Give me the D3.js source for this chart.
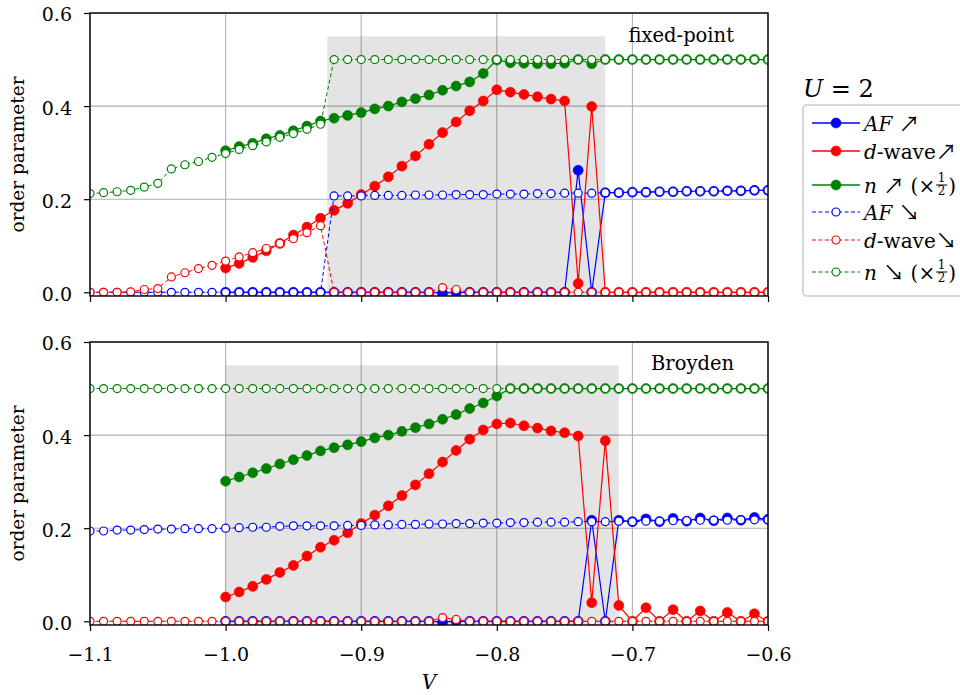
<!DOCTYPE html>
<html><head><meta charset="utf-8">
<script src="https://cdn.jsdelivr.net/npm/d3@7"></script>
<style>body{margin:0;background:#fff}svg{display:block}</style>
</head><body>
<script>
const N = null;
const V = [-1.10,-1.09,-1.08,-1.07,-1.06,-1.05,-1.04,-1.03,-1.02,-1.01,
  -1.00,-0.99,-0.98,-0.97,-0.96,-0.95,-0.94,-0.93,-0.92,-0.91,
  -0.90,-0.89,-0.88,-0.87,-0.86,-0.85,-0.84,-0.83,-0.82,-0.81,
  -0.80,-0.79,-0.78,-0.77,-0.76,-0.75,-0.74,-0.73,-0.72,-0.71,
  -0.70,-0.69,-0.68,-0.67,-0.66,-0.65,-0.64,-0.63,-0.62,-0.61,
  -0.60];
const xTicks = [-1.1,-1.0,-0.9,-0.8,-0.7,-0.6];
const yTicks = [0.0,0.2,0.4,0.6];

// fixed-point panel
const fpAFup = [N,N,N,N,N,N,N,N,N,N,
  0,0,0,0,0,0,0,0,0,0,
  0,0,0,0,0,0,-0.002,0,0,0,
  0,0,0,0,0,0,0.262,0,0.214,0.214,
  0.215,0.215,0.216,0.216,0.217,0.217,0.217,0.218,0.218,0.219,
  0.219];
const fpDup = [N,N,N,N,N,N,N,N,N,N,
  0.052,0.062,0.075,0.089,0.105,0.123,0.140,0.159,0.176,0.191,
  0.210,0.228,0.248,0.271,0.293,0.318,0.343,0.366,0.390,0.411,
  0.435,0.430,0.425,0.420,0.415,0.411,0.019,0.399,0,0,
  0,0,0,0,0,0,0,0,0,0,
  0];
const fpNup = [N,N,N,N,N,N,N,N,N,N,
  0.304,0.313,0.320,0.330,0.337,0.347,0.357,0.368,0.374,0.380,
  0.386,0.394,0.400,0.409,0.416,0.424,0.434,0.443,0.452,0.470,
  0.499,0.493,0.492,0.491,0.491,0.492,0.500,0.491,0.5,0.5,
  0.5,0.5,0.5,0.5,0.5,0.5,0.5,0.5,0.5,0.5,
  0.5];
const fpAFdn = [0,0,0,0,0,0,0,0,0,0,
  0,0,0,0,0,0,0,0,0.207,0.207,
  0.207,0.208,0.208,0.208,0.209,0.209,0.209,0.210,0.210,0.210,
  0.211,0.211,0.211,0.212,0.212,0.213,0.213,0.213,0.214,0.214,
  0.215,0.215,0.216,0.216,0.217,0.217,0.217,0.218,0.218,0.219,
  0.219];
const fpDdn = [0,0,0,0.001,0.006,0.008,0.033,0.042,0.051,0.058,
  0.067,0.076,0.085,0.094,0.105,0.115,0.128,0.143,0,0,
  0,0,0,0,0,0,0.010,0.006,0,0,
  0,0,0,0,0,0,0,0,0,0,
  0,0,0,0,0,0,0,0,0,0,
  0];
const fpNdn = [0.212,0.214,0.216,0.219,0.226,0.234,0.265,0.274,0.281,0.290,
  0.298,0.307,0.315,0.323,0.333,0.341,0.350,0.361,0.5,0.5,
  0.5,0.5,0.5,0.5,0.5,0.5,0.5,0.5,0.5,0.5,
  0.5,0.5,0.5,0.5,0.5,0.5,0.5,0.5,0.5,0.5,
  0.5,0.5,0.5,0.5,0.5,0.5,0.5,0.5,0.5,0.5,
  0.5];

// Broyden panel
const brAFup = [N,N,N,N,N,N,N,N,N,N,
  0,0,0,0,0,0,0,0,0,0,
  0,0,0,0,0,0,-0.002,0,0,0,
  0,0,0,0,0,0,0,0.217,0,0.217,
  0.214,0.220,0.214,0.221,0.215,0.222,0.216,0.222,0.217,0.223,
  0.219];
const brDup = [N,N,N,N,N,N,N,N,N,N,
  0.052,0.063,0.075,0.090,0.105,0.120,0.140,0.159,0.174,0.190,
  0.210,0.228,0.248,0.270,0.293,0.317,0.342,0.367,0.391,0.411,
  0.424,0.426,0.420,0.415,0.409,0.405,0.398,0.040,0.388,0.034,
  0,0.029,0,0.025,0,0.022,0,0.019,0,0.016,
  0];
const brNup = [N,N,N,N,N,N,N,N,N,N,
  0.301,0.310,0.319,0.328,0.338,0.347,0.356,0.366,0.373,0.379,
  0.386,0.394,0.400,0.408,0.416,0.424,0.434,0.444,0.457,0.469,
  0.484,0.5,0.5,0.5,0.5,0.5,0.5,0.5,0.5,0.5,
  0.5,0.5,0.5,0.5,0.5,0.5,0.5,0.5,0.5,0.5,
  0.5];
const brAFdn = [0.194,0.194,0.196,0.196,0.197,0.198,0.198,0.199,0.199,0.199,
  0.200,0.201,0.202,0.202,0.204,0.205,0.205,0.205,0.205,0.206,
  0.206,0.207,0.207,0.208,0.208,0.209,0.209,0.210,0.210,0.211,
  0.211,0.212,0.212,0.213,0.213,0.213,0.214,0.214,0.214,0.215,
  0.214,0.215,0.215,0.216,0.216,0.217,0.217,0.217,0.218,0.218,
  0.218];
const brDdn = [0,0,0,0,0,0,0,0,0,0,
  0,0,0,0,0,0,0,0,0,0,
  0,0,0,0,0,0,0.008,0.004,0,0,
  0,0,0,0,0,0,0,0,0,0,
  0,0,0,0,0,0,0,0,0,0,
  0];
const brNdn = [0.5,0.5,0.5,0.5,0.5,0.5,0.5,0.5,0.5,0.5,
  0.5,0.5,0.5,0.5,0.5,0.5,0.5,0.5,0.5,0.5,
  0.5,0.5,0.5,0.5,0.5,0.5,0.5,0.5,0.5,0.5,
  0.5,0.5,0.5,0.5,0.5,0.5,0.5,0.5,0.5,0.5,
  0.5,0.5,0.5,0.5,0.5,0.5,0.5,0.5,0.5,0.5,
  0.5];

const panelNames = ["fixed-point","Broyden"];
const greyRanges = [[-0.925,-0.72],[-1.0,-0.71]];
const greyTop = 0.55;

const FONT = "'DejaVu Serif', serif";
const ARROWFONT = "'Noto Sans CJK JP', 'DejaVu Sans', sans-serif";
const W = 960, H = 695;
const svg = d3.select("body").append("svg").attr("width",W).attr("height",H)
  .attr("font-family",FONT);

const x = d3.scaleLinear().domain([-1.1,-0.6]).range([90,768]);
const panels = [
  {top:13, bottom:296, name:panelNames[0], grey:greyRanges[0], labelY:42, showX:false,
   up:[fpAFup,fpDup,fpNup], dn:[fpAFdn,fpDdn,fpNdn]},
  {top:342, bottom:625, name:panelNames[1], grey:greyRanges[1], labelY:370, showX:true,
   up:[brAFup,brDup,brNup], dn:[brAFdn,brDdn,brNdn]}
];
const colors = ["#0000ff","#ff0000","#008000"];

panels.forEach((p,pi)=>{
  const y = d3.scaleLinear().domain([-0.008,0.6]).range([p.bottom,p.top]);
  const g = svg.append("g");
  const cid = "clip"+pi;
  svg.append("clipPath").attr("id",cid).append("rect")
    .attr("x",x.range()[0]).attr("y",p.top)
    .attr("width",x.range()[1]-x.range()[0]).attr("height",p.bottom-p.top);

  // grid
  g.append("g").selectAll("line").data(xTicks).join("line")
    .attr("x1",d=>x(d)).attr("x2",d=>x(d)).attr("y1",p.top).attr("y2",p.bottom)
    .attr("stroke","#b0b0b0").attr("stroke-width",1.1);
  g.append("g").selectAll("line").data(yTicks).join("line")
    .attr("y1",d=>y(d)).attr("y2",d=>y(d)).attr("x1",x.range()[0]).attr("x2",x.range()[1])
    .attr("stroke","#b0b0b0").attr("stroke-width",1.1);

  // grey region
  g.append("rect").attr("x",x(p.grey[0])).attr("width",x(p.grey[1])-x(p.grey[0]))
    .attr("y",y(greyTop)).attr("height",p.bottom-y(greyTop))
    .attr("fill","#000").attr("fill-opacity",0.105);

  const dg = g.append("g").attr("clip-path",`url(#${cid})`);
  const line = d3.line().defined(d=>d.v!=null).x(d=>x(d.V)).y(d=>y(d.v));
  function drawSeries(arr,color,filled){
    const pts = V.map((vv,i)=>({V:vv,v:arr[i]}));
    dg.append("path").datum(pts).attr("d",line).attr("fill","none")
      .attr("stroke",color).attr("stroke-width",filled?1.2:1)
      .attr("stroke-dasharray",filled?null:"4,2.5");
    dg.append("g").selectAll("circle").data(pts.filter(d=>d.v!=null)).join("circle")
      .attr("cx",d=>x(d.V)).attr("cy",d=>y(d.v))
      .attr("r",filled?5:4)
      .attr("fill",filled?color:"#fff")
      .attr("stroke",color).attr("stroke-width",filled?0.6:1.2);
  }
  p.up.forEach((arr,i)=>drawSeries(arr,colors[i],true));
  p.dn.forEach((arr,i)=>drawSeries(arr,colors[i],false));

  // axes
  const ya = g.append("g").attr("transform",`translate(${x.range()[0]},0)`)
    .call(d3.axisLeft(y).tickValues(yTicks).tickFormat(d3.format(".1f")).tickSize(6).tickPadding(12));
  ya.select(".domain").remove();
  ya.selectAll("text").attr("font-family",FONT).attr("font-size",19).attr("dy","0.42em").attr("fill","#000");
  ya.selectAll("line").attr("stroke","#000").attr("stroke-width",1.2);
  ya.attr("font-family",FONT);

  const xa = g.append("g").attr("transform",`translate(0,${p.bottom})`)
    .call(d3.axisBottom(x).tickValues(xTicks).tickFormat(p.showX?d3.format(".1f"):"").tickSize(6));
  xa.select(".domain").remove();
  xa.selectAll("text").attr("font-family",FONT).attr("font-size",19).attr("y",36).attr("dy","0").attr("fill","#000");
  xa.selectAll("line").attr("stroke","#000").attr("stroke-width",1.2);
  xa.attr("font-family",FONT);

  // frame
  g.append("rect").attr("x",x.range()[0]).attr("y",p.top)
    .attr("width",x.range()[1]-x.range()[0]).attr("height",p.bottom-p.top)
    .attr("fill","none").attr("stroke","#000").attr("stroke-width",1.4);

  // panel label
  g.append("text").attr("x",734).attr("y",p.labelY).attr("text-anchor","end")
    .attr("font-size",19.5).text(p.name);

  // y label
  g.append("text").attr("transform",`translate(24,${(p.top+p.bottom)/2}) rotate(-90)`)
    .attr("text-anchor","middle").attr("font-size",18.5).text("order parameter");
});

// x label
svg.append("text").attr("x",429).attr("y",689).attr("text-anchor","middle")
  .attr("font-size",20).attr("font-style","italic").text("V");

// legend title
const tt = svg.append("text").attr("x",803).attr("y",97).attr("font-size",24);
tt.append("tspan").attr("font-style","italic").text("U");
tt.append("tspan").text(" = 2");

// legend box
svg.append("rect").attr("x",803).attr("y",105).attr("width",185).attr("height",191)
  .attr("rx",4).attr("fill","#fff").attr("fill-opacity",0.85)
  .attr("stroke","#cccccc").attr("stroke-width",1.6);

// parts: [text, style, isArrow]
const legendRows = [
  {c:0, filled:true,  y:123, parts:[["AF","italic"],[" ","normal"],["↗","normal",1]], frac:false},
  {c:1, filled:true,  y:151, parts:[["d","italic"],["-wave","normal"],["↗","normal",1]], frac:false},
  {c:2, filled:true,  y:185, parts:[["n","italic"],[" ","normal"],["↗","normal",1],[" (×","normal"]], frac:true},
  {c:0, filled:false, y:212, parts:[["AF","italic"],[" ","normal"],["↘","normal",1]], frac:false},
  {c:1, filled:false, y:240, parts:[["d","italic"],["-wave","normal"],["↘","normal",1]], frac:false},
  {c:2, filled:false, y:272, parts:[["n","italic"],[" ","normal"],["↘","normal",1],[" (×","normal"]], frac:true}
];
legendRows.forEach(r=>{
  const col = colors[r.c];
  svg.append("line").attr("x1",812).attr("x2",860).attr("y1",r.y).attr("y2",r.y)
    .attr("stroke",col).attr("stroke-width",r.filled?1.5:1.1)
    .attr("stroke-dasharray",r.filled?null:"4,2.5");
  svg.append("circle").attr("cx",836).attr("cy",r.y).attr("r",r.filled?5:4)
    .attr("fill",r.filled?col:"#fff").attr("stroke",col).attr("stroke-width",r.filled?0.6:1.2);
  const t = svg.append("text").attr("x",864).attr("y",r.y+8).attr("font-size",20);
  r.parts.forEach(pt=>{
    const ts = t.append("tspan").attr("font-style",pt[1]).text(pt[0]);
    if(pt[2]) ts.attr("font-family",ARROWFONT).attr("font-size",21);
  });
  if(r.frac){
    const w = t.node().getComputedTextLength();
    const fx = 864 + w + 1;
    const fw = 11;
    svg.append("text").attr("x",fx+fw/2).attr("y",r.y-3).attr("text-anchor","middle")
      .attr("font-size",12).text("1");
    svg.append("line").attr("x1",fx).attr("x2",fx+fw).attr("y1",r.y).attr("y2",r.y)
      .attr("stroke","#000").attr("stroke-width",1);
    svg.append("text").attr("x",fx+fw/2).attr("y",r.y+10).attr("text-anchor","middle")
      .attr("font-size",12).text("2");
    svg.append("text").attr("x",fx+fw+1).attr("y",r.y+8).attr("font-size",20).text(")");
  }
});
</script>
</body></html>
